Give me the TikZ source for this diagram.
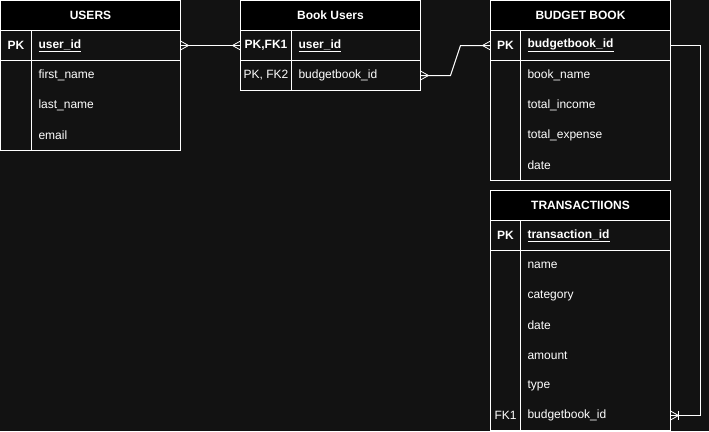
\documentclass[tikz,border=0pt]{standalone}
\usepackage{fontspec}
\setmainfont{Liberation Sans}
\usepackage{tikz}
\usetikzlibrary{
    positioning,
    calc
}
\definecolor{darkBg}{RGB}{18, 18, 18}
\newcommand{\erfont}{\fontsize{12}{14}\selectfont}

\tikzset{
    hdr/.style={draw=white, fill=black, text=white, font=\erfont\bfseries,
        minimum height=30pt, inner sep=0pt, outer sep=0pt, line width=1pt},
    box/.style={draw=white, line width=1pt, inner sep=0pt, outer sep=0pt},
    key/.style={text=white, font=\erfont, inner sep=0pt, outer sep=0pt},
    keyb/.style={key, font=\erfont\bfseries},
    fld/.style={text=white, font=\erfont, anchor=west, inner xsep=7pt,
        inner ysep=0pt, outer sep=0pt, text width=#1, align=left},
    fld/.default=136pt,
    fldb/.style={fld=#1, font=\erfont\bfseries},
    fldb/.default=136pt,
    link/.style={draw=white, line width=1pt},
    foot/.style={draw=white, line width=0.8pt}
}

\begin{document}
\begin{tikzpicture}[x=1pt, y=-1pt]
            \fill[darkBg] (0,0) rectangle (709,431);
            \useasboundingbox (0,0) rectangle (709,431);

            % USERS
            \node[hdr, minimum width=180pt, anchor=north west] (users) at (0.5,0.5) {USERS};
            \node[box, minimum width=180pt, minimum height=30pt, below=0pt of users] (users-pk) {};
            \node[box, minimum width=180pt, minimum height=90pt, below=0pt of users-pk] (users-rows) {};
            \draw[link] ([xshift=31pt]users-pk.north west) -- ([xshift=31pt]users-rows.south west);
            \node[keyb] (users-k1) at ([xshift=15.5pt]users-pk.west) {PK};
            \node[fldb=135pt] (users-uid) at ([xshift=31pt]users-pk.west) {\underline{user\_id}};
            \node[fld=135pt] (users-first) at ($(users-rows.north west)+(31,15)$) {first\_name};
            \node[fld=135pt] (users-last) at ($(users-rows.north west)+(31,45)$) {last\_name};
            \node[fld=135pt] (users-mail) at ($(users-rows.north west)+(31,75)$) {email};

            % Book Users
            \node[hdr, minimum width=180pt, anchor=north west] (bu) at (240.5,0.5) {Book Users};
            \node[box, minimum width=180pt, minimum height=30pt, below=0pt of bu] (bu-r1) {};
            \node[box, minimum width=180pt, minimum height=30pt, below=0pt of bu-r1] (bu-r2) {};
            \draw[link] ([xshift=51pt]bu-r1.north west) -- ([xshift=51pt]bu-r2.south west);
            \node[keyb] (bu-k1) at ([xshift=25.5pt]bu-r1.west) {PK,FK1};
            \node[key] (bu-k2) at ([xshift=25.5pt]bu-r2.west) {PK, FK2};
            \node[fldb=115pt] (bu-uid) at ([xshift=51pt]bu-r1.west) {\underline{user\_id}};
            \node[fld=115pt] (bu-bid) at ([xshift=51pt]bu-r2.west) {budgetbook\_id};

            % BUDGET BOOK
            \node[hdr, minimum width=180pt, anchor=north west] (bb) at (490.5,0.5) {BUDGET BOOK};
            \node[box, minimum width=180pt, minimum height=30pt, below=0pt of bb] (bb-pk) {};
            \node[box, minimum width=180pt, minimum height=120pt, below=0pt of bb-pk] (bb-rows) {};
            \draw[link] ([xshift=30pt]bb-pk.north west) -- ([xshift=30pt]bb-rows.south west);
            \node[keyb] (bb-k1) at ([xshift=15pt]bb-pk.west) {PK};
            \node[fldb] (bb-bid) at ([xshift=30pt]bb-pk.west) {\underline{budgetbook\_id}};
            \node[fld] (bb-name) at ($(bb-rows.north west)+(30,15)$) {book\_name};
            \node[fld] (bb-inc) at ($(bb-rows.north west)+(30,45)$) {total\_income};
            \node[fld] (bb-exp) at ($(bb-rows.north west)+(30,75)$) {total\_expense};
            \node[fld] (bb-date) at ($(bb-rows.north west)+(30,105)$) {date};

            % TRANSACTIIONS
            \node[hdr, minimum width=180pt, anchor=north west] (tr) at (490.5,190.5) {TRANSACTIIONS};
            \node[box, minimum width=180pt, minimum height=30pt, below=0pt of tr] (tr-pk) {};
            \node[box, minimum width=180pt, minimum height=180pt, below=0pt of tr-pk] (tr-rows) {};
            \draw[link] ([xshift=30pt]tr-pk.north west) -- ([xshift=30pt]tr-rows.south west);
            \node[keyb] (tr-k1) at ([xshift=15pt]tr-pk.west) {PK};
            \node[fldb] (tr-tid) at ([xshift=30pt]tr-pk.west) {\underline{transaction\_id}};
            \node[fld] (tr-name) at ($(tr-rows.north west)+(30,15)$) {name};
            \node[fld] (tr-cat) at ($(tr-rows.north west)+(30,45)$) {category};
            \node[fld] (tr-date) at ($(tr-rows.north west)+(30,75)$) {date};
            \node[fld] (tr-amt) at ($(tr-rows.north west)+(30,105)$) {amount};
            \node[fld] (tr-type) at ($(tr-rows.north west)+(30,135)$) {type};
            \node[key] (tr-k2) at ($(tr-rows.north west)+(15,165)$) {FK1};
            \node[fld] (tr-bid) at ($(tr-rows.north west)+(30,165)$) {budgetbook\_id};

            % relations
            \draw[link] (users-uid.east) -- (bu-r1.west);
            \draw[foot] ($(users-uid.east)+(0,-4.5)$) -- ($(users-uid.east)+(8,0)$) -- ($(users-uid.east)+(0,4.5)$);
            \draw[foot] ($(bu-r1.west)+(0,-4.5)$) -- ($(bu-r1.west)+(-8,0)$) -- ($(bu-r1.west)+(0,4.5)$);

            \draw[link] (bu-bid.east) -- ++(30,0) -- ($(bb-pk.west)+(-30,0)$) -- (bb-pk.west);
            \draw[foot] ($(bu-bid.east)+(0,-4.5)$) -- ($(bu-bid.east)+(8,0)$) -- ($(bu-bid.east)+(0,4.5)$);
            \draw[foot] ($(bb-pk.west)+(0,-4.5)$) -- ($(bb-pk.west)+(-8,0)$) -- ($(bb-pk.west)+(0,4.5)$);

            \draw[link] (bb-bid.east) -- ++(30,0) |- (tr-bid.east);
            \draw[foot] ($(tr-bid.east)+(0,-4.5)$) -- ($(tr-bid.east)+(8,0)$) -- ($(tr-bid.east)+(0,4.5)$);
            \draw[foot] ($(tr-bid.east)+(8,-4.5)$) -- ($(tr-bid.east)+(8,4.5)$);
        \end{tikzpicture}
\end{document}
